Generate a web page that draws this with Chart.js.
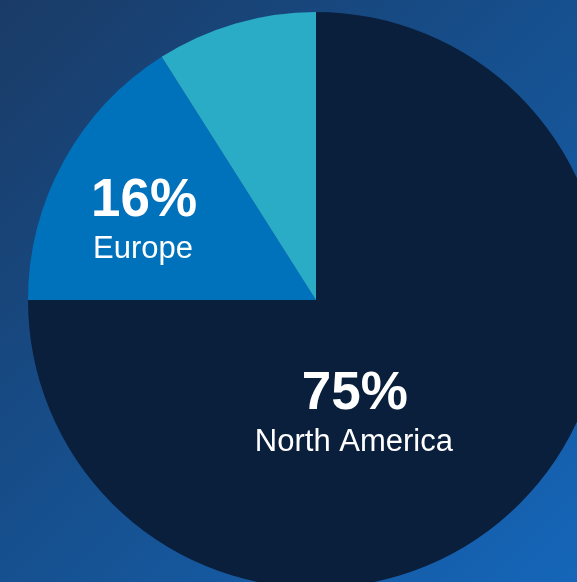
<!DOCTYPE html>
<html>
<head>
<meta charset="utf-8">
<script src="https://cdn.jsdelivr.net/npm/chart.js@4/dist/chart.umd.min.js"></script>
<style>
  html, body {
    margin: 0;
    padding: 0;
    width: 577px;
    height: 582px;
    overflow: hidden;
  }
  body {
    position: relative;
    background: linear-gradient(135deg, #1a3b66 0%, #16508f 50%, #1566b9 100%);
  }
  #chart {
    position: absolute;
    left: 28px;
    top: 12px;
  }
</style>
</head>
<body>
<canvas id="chart" width="576" height="576"></canvas>
<script>
// Regions and their share of the total (percent)
const regions = ['North America', 'Europe', 'Rest of World'];
const shares = [75, 16, 9];
const sliceColors = ['#0a1f3c', '#0071bb', '#2aabc6'];
// Which slices get a text label
const showLabel = [true, true, false];

// Label placement, as fractions of the pie radius from the centre
const labelSpots = {
  'North America': { dx: 0.135, dy: 0.38 },
  'Europe': { dx: -0.597, dy: -0.29 }
};

// Plugin drawing the big percentage and the region name on the slices
const sliceLabels = {
  id: 'sliceLabels',
  afterDatasetsDraw(chart) {
    const ctx = chart.ctx;
    const arcs = chart.getDatasetMeta(0).data;
    ctx.save();
    ctx.fillStyle = '#ffffff';
    ctx.textAlign = 'center';
    ctx.textBaseline = 'alphabetic';
    arcs.forEach(function(arc, i) {
      if (!showLabel[i]) return;
      const spot = labelSpots[regions[i]];
      const x = arc.x + spot.dx * arc.outerRadius;
      const y = arc.y + spot.dy * arc.outerRadius;
      ctx.font = 'bold 53px "Liberation Sans", Arial, sans-serif';
      ctx.fillText(shares[i] + '%', x, y);
      ctx.font = '31px "Liberation Sans", Arial, sans-serif';
      ctx.fillText(regions[i], x - 1, y + 42);
    });
    ctx.restore();
  }
};

var ctx = document.getElementById('chart').getContext('2d');
var chart = new Chart(ctx, {
  type: 'pie',
  data: {
    labels: regions,
    datasets: [{
      data: shares,
      backgroundColor: sliceColors,
      borderWidth: 0
    }]
  },
  options: {
    responsive: false,
    animation: false,
    layout: { padding: 0 },
    plugins: {
      legend: { display: false },
      tooltip: { enabled: false }
    }
  },
  plugins: [sliceLabels]
});
</script>
</body>
</html>
